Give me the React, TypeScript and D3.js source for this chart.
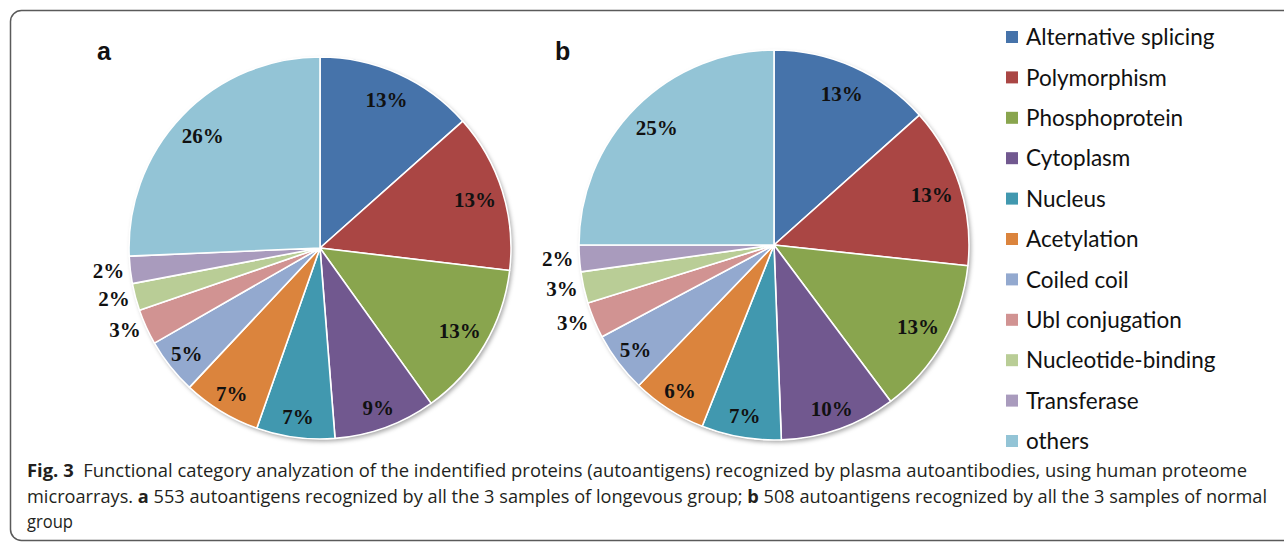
import * as d3 from 'd3';
import React from 'react';

// categories and colours, same order in both pies (clockwise from 12 o'clock)
const categories: string[] = [
  'Alternative splicing',
  'Polymorphism',
  'Phosphoprotein',
  'Cytoplasm',
  'Nucleus',
  'Acetylation',
  'Coiled coil',
  'Ubl conjugation',
  'Nucleotide-binding',
  'Transferase',
  'others',
];

const colors: string[] = [
  '#4673aa', '#aa4644', '#89a54e', '#71588f', '#4198af', '#db843d',
  '#93a9cf', '#d19392', '#b9cd96', '#a99bbd', '#93c4d6',
];

// percentages (a: longevous group, b: normal group)
const valuesA: number[] = [13.4, 13.4, 13.2, 8.6, 6.6, 6.6, 4.7, 3.0, 2.3, 2.3, 25.6];
const valuesB: number[] = [13.4, 13.3, 13.1, 9.6, 6.6, 6.2, 5.0, 3.0, 2.6, 2.2, 25.0];

const captionLine1 = 'Functional category analyzation of the indentified proteins (autoantigens) recognized by plasma autoantibodies, using human proteome';

interface Slice {
  key: string;
  value: number;
  color: string;
}

function Pie({ values, cx, cy, r, letter, letterX }: { values: number[]; cx: number; cy: number; r: number; letter: string; letterX: number }) {
  const data: Slice[] = categories.map((key, i) => ({ key, value: values[i], color: colors[i] }));
  const pie = d3.pie<Slice>().sort(null).value(d => d.value);
  const arcs = pie(data);
  const arc = d3.arc<d3.PieArcDatum<Slice>>().innerRadius(0).outerRadius(r);

  return (
    <g>
      <text x={letterX} y={60} fontFamily="'Liberation Sans', Arial, sans-serif" fontWeight="bold" fontSize={25} fill="#111">{letter}</text>
      <g transform={`translate(${cx},${cy})`}>
        <circle r={r} fill="#fff" filter="url(#pieShadow)" />
        {arcs.map(a => (
          <path key={a.data.key} d={arc(a) || ''} fill={a.data.color} stroke="#fff" strokeWidth={1.6} strokeLinejoin="round" />
        ))}
        {arcs.map(a => {
          const mid = (a.startAngle + a.endAngle) / 2;
          const outside = a.data.value < 4;
          const lr = outside ? r + 6 : a.data.value >= 11 ? r * 0.85 : r * 0.89;
          const x = lr * Math.sin(mid);
          const y = -lr * Math.cos(mid);
          return (
            <text
              key={'l' + a.data.key}
              x={x}
              y={y}
              dy="0.35em"
              textAnchor={outside ? 'end' : 'middle'}
              fontFamily="'Liberation Serif', 'Times New Roman', serif"
              fontWeight="bold"
              fontSize={21}
              fill="#111"
            >
              {Math.round(a.data.value) + '%'}
            </text>
          );
        })}
      </g>
    </g>
  );
}

export default function App() {
  const legendY = d3.scalePoint<string>().domain(categories).range([37, 441]);
  const captionFont = "'Open Sans', 'Noto Sans', sans-serif";

  return (
    <div style={{ position: 'absolute', left: 0, top: 0 }}>
      <svg width={1284} height={542} style={{ display: 'block', background: '#fff' }}>
        <defs>
          <filter id="pieShadow" x="-10%" y="-10%" width="120%" height="120%">
            <feDropShadow dx={2} dy={2.5} stdDeviation={2} floodColor="#000" floodOpacity={0.35} />
          </filter>
        </defs>
        <rect x={10.5} y={10.5} width={1320} height={530} rx={11} ry={11} fill="none" stroke="#5a5a5a" strokeWidth={1.5} />

        <Pie values={valuesA} cx={320} cy={248} r={191} letter="a" letterX={97} />
        <Pie values={valuesB} cx={774} cy={245} r={195} letter="b" letterX={555} />

        <g>
          {categories.map((c, i) => (
            <g key={c} transform={`translate(1006,${legendY(c)})`}>
              <rect x={0} y={-6} width={12} height={12} fill={colors[i]} />
              <text x={20} y={0} dy="0.36em" fontFamily="Lato, 'Open Sans', sans-serif" fontSize={22.5} fill="#111">{c}</text>
            </g>
          ))}
        </g>

        <g fontFamily={captionFont} fontSize={18} fill="#231f20">
          <text x={27} y={477} textLength={1220} lengthAdjust="spacingAndGlyphs">
            <tspan fontWeight="bold">Fig. 3</tspan>
            <tspan>{'\u00a0 ' + captionLine1}</tspan>
          </text>
          <text x={27} y={503} textLength={1240} lengthAdjust="spacingAndGlyphs">
            <tspan>microarrays. </tspan>
            <tspan fontWeight="bold">a</tspan>
            <tspan> 553 autoantigens recognized by all the 3 samples of longevous group; </tspan>
            <tspan fontWeight="bold">b</tspan>
            <tspan> 508 autoantigens recognized by all the 3 samples of normal</tspan>
          </text>
          <text x={27} y={528} textLength={46} lengthAdjust="spacingAndGlyphs">group</text>
        </g>
      </svg>
    </div>
  );
}
